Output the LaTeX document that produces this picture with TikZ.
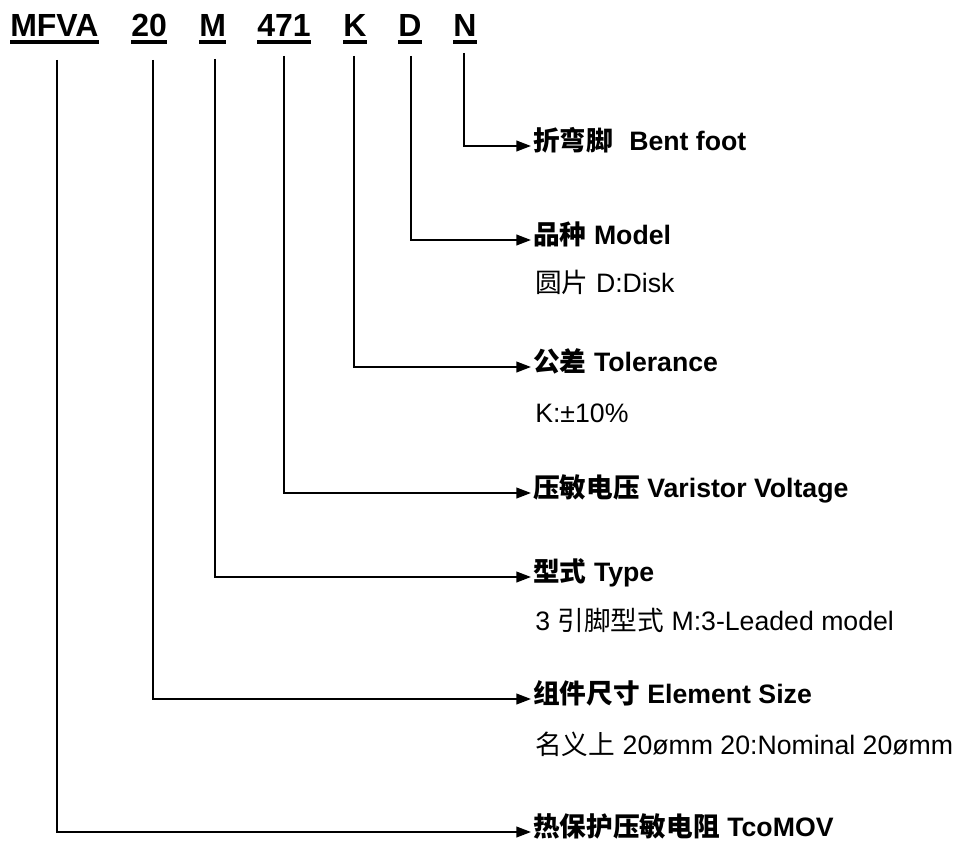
\documentclass[tikz,border=0pt]{standalone}
\usepackage{fontspec}
\setmainfont{Liberation Sans}
\newfontfamily\cjk{Noto Sans CJK SC}
\usetikzlibrary{arrows.meta,calc}
\begin{document}
\begin{tikzpicture}[x=0.75pt,y=-0.75pt,
  hdr/.style={anchor=base west,inner sep=0pt,font=\fontsize{24}{28}\selectfont\bfseries},
  ul/.style={line width=2.4pt},
  conn/.style={line width=1.4pt,-{Triangle[length=11pt,width=8pt]}},
  lab/.style={anchor=west,inner ysep=0pt,inner xsep=1.5pt,text height=0.9em,text depth=0.2em,font=\fontsize{20}{24}\selectfont\bfseries},
  sub/.style={anchor=west,inner ysep=0pt,inner xsep=0pt,text height=0.9em,text depth=0.2em,font=\fontsize{20}{24}\selectfont}]
\useasboundingbox (0,0) rectangle (956,845);
% header
\node[hdr] (hA) at (10,37) {MFVA};
\node[hdr] (hB) at (131,37) {20};
\node[hdr] (hC) at (199,37) {M};
\node[hdr] (hD) at (257,37) {471};
\node[hdr] (hE) at (343,37) {K};
\node[hdr] (hF) at (398,37) {D};
\node[hdr] (hG) at (453,37) {N};
\foreach \n in {hA,hB,hC,hD,hE,hF,hG}
  \draw[ul] ($(\n.base west)+(0,5)$) -- ($(\n.base east)+(0,5)$);
% labels
\node[lab] (lG) at (531,146) {{\cjk 折弯脚}\hspace{0.6em}Bent foot};
\node[lab] (lF) at (531,240) {{\cjk 品种} Model};
\node[sub] (sF) at (535,288) {{\cjk 圆片} D:Disk};
\node[lab] (lE) at (531,367) {{\cjk 公差} Tolerance};
\node[sub] (sE) at (535,418) {K:±10\%};
\node[lab] (lD) at (531,493) {{\cjk 压敏电压} Varistor Voltage};
\node[lab] (lC) at (531,577) {{\cjk 型式} Type};
\node[sub] (sC) at (535,626) {3 {\cjk 引脚型式} M:3-Leaded model};
\node[lab] (lB) at (531,699) {{\cjk 组件尺寸} Element Size};
\node[sub] (sB) at (535,750) {{\cjk 名义上} 20ømm 20:Nominal 20ømm};
\node[lab] (lA) at (531,832) {{\cjk 热保护压敏电阻} TcoMOV};
% connector tops
\coordinate (tA) at (57,60);
\coordinate (tB) at (153,60);
\coordinate (tC) at (215,59);
\coordinate (tD) at (284,56);
\coordinate (tE) at (354,56);
\coordinate (tF) at (411,56);
\coordinate (tG) at (464,53);
\draw[conn] (tA) |- (lA.west);
\draw[conn] (tB) |- (lB.west);
\draw[conn] (tC) |- (lC.west);
\draw[conn] (tD) |- (lD.west);
\draw[conn] (tE) |- (lE.west);
\draw[conn] (tF) |- (lF.west);
\draw[conn] (tG) |- (lG.west);
\end{tikzpicture}
\end{document}
